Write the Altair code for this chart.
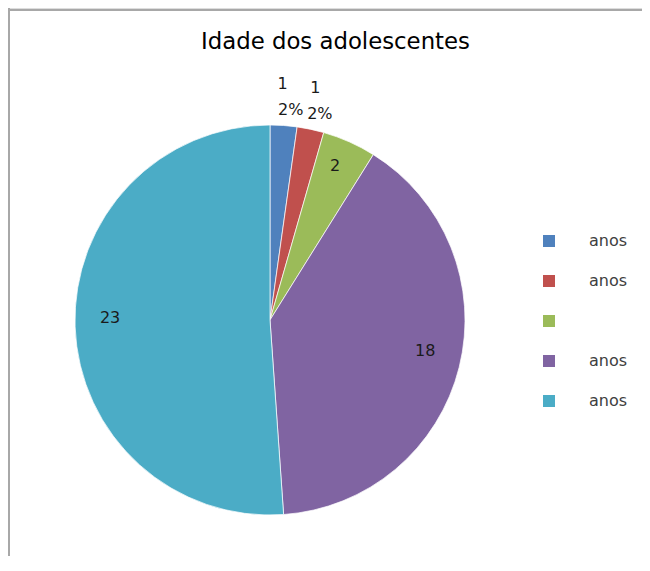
import json
import altair as alt
import pandas as pd

# ---- data ----
categories = ["c1", "c2", "c3", "c4", "c5"]
values = [1, 1, 2, 18, 23]
legend_labels = ["anos", "anos", " ", "anos", "anos"]
colors = ["#4F81BD", "#C0504D", "#9BBB59", "#8064A2", "#4BACC6"]
title_text = "Idade dos adolescentes"

df = pd.DataFrame({"cat": categories, "value": values, "idx": list(range(len(categories)))})

W, H = 634, 548
CX, CY, R = 262, 312, 195
FONT = "DejaVu Sans"

label_expr = "{}[indexof({}, datum.value)]".format(json.dumps(legend_labels), json.dumps(categories))

base = (
    alt.Chart(df)
    .transform_joinaggregate(total="sum(value)")
    .transform_calculate(
        share="datum.value / datum.total",
    )
    .transform_calculate(
        inner_label="datum.share < 0.03 ? '' : toString(datum.value)",
        outer_count="datum.share < 0.03 ? toString(datum.value) : ''",
        outer_pct="datum.share < 0.03 ? format(datum.share, '.0%') : ''",
    )
    .encode(
        theta=alt.Theta("value:Q", stack=True),
        order=alt.Order("idx:Q"),
        x=alt.value(CX),
        y=alt.value(CY),
    )
)

arcs = base.mark_arc(radius=R, stroke="white", strokeWidth=0.7).encode(
    color=alt.Color(
        "cat:N",
        scale=alt.Scale(domain=categories, range=colors),
        sort=categories,
        legend=alt.Legend(
            title=None,
            orient="none",
            legendX=533,
            legendY=225,
            symbolType="square",
            symbolSize=144,
            symbolStrokeWidth=0,
            labelFont=FONT,
            labelFontSize=16,
            labelColor="#404040",
            labelOffset=32,
            rowPadding=24,
            padding=0,
            labelExpr=label_expr,
        ),
    )
)

txt_style = dict(font=FONT, fontSize=16, color="#1a1a1a", align="center", baseline="middle")
inner = base.mark_text(radius=160, dy=-8, **txt_style).encode(text="inner_label:N")
outer_count = base.mark_text(radius=237, dx=-4, **txt_style).encode(text="outer_count:N")
outer_pct = base.mark_text(radius=211, dx=6, **txt_style).encode(text="outer_pct:N")

frame_df = pd.DataFrame({"k": [0]})
top_line = alt.Chart(frame_df).mark_rule(color="#a8a8a8", strokeWidth=2).encode(
    x=alt.value(0), x2=alt.value(W), y=alt.value(2)
)
left_line = alt.Chart(frame_df).mark_rule(color="#a8a8a8", strokeWidth=2).encode(
    x=alt.value(1), y=alt.value(0), y2=alt.value(H)
)

chart = (
    alt.layer(top_line, left_line, arcs, inner, outer_count, outer_pct)
    .properties(
        width=W,
        height=H,
        autosize=alt.AutoSizeParams(type="none"),
        padding=0,
        title=alt.Title(
            title_text,
            font=FONT,
            fontSize=22.8,
            fontWeight="normal",
            color="#000000",
            anchor="start",
            offset=0,
            dx=194,
            dy=47,
        ),
    )
    .configure_view(strokeWidth=0, stroke="transparent")
    .configure(background="white")
)

chart.save("out.html", embed_options={"renderer": "svg", "actions": False})
